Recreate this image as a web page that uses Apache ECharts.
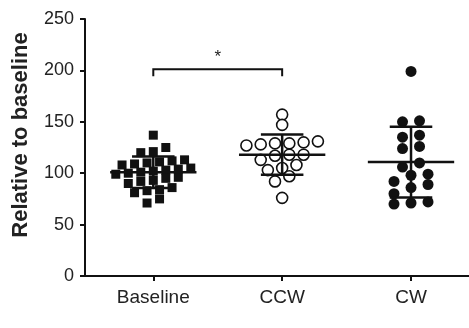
<!DOCTYPE html>
<html><head><meta charset="utf-8">
<script src="https://cdn.jsdelivr.net/npm/echarts@6/dist/echarts.min.js"></script>
<style>html,body{margin:0;padding:0;background:#fff}#c{width:469px;height:328px}</style>
</head><body><div id="c"></div>
<script>
const categories = ['Baseline', 'CCW', 'CW'];
const baseline = [137, 125, 121, 120, 113, 112, 111, 110, 109, 108, 105, 104, 103, 102, 101, 100, 99, 96, 95, 93, 92, 90, 86, 84, 83, 81, 75, 71];
const ccw = [157, 147, 131, 130, 129, 129, 128, 127, 118, 118, 117, 113, 108, 105, 103, 97, 92, 76];
const cw = [199, 150, 151, 137, 135, 126, 124, 110, 106, 98, 99, 92, 89, 86, 80, 72, 70, 71];
const yTicks = [0, 50, 100, 150, 200, 250];
const sigPairs = [[0, 1]];
const sigLabels = ['*'];
const sigHeights = [201];

const FONT = '"Liberation Sans", Arial, Helvetica, sans-serif';
const INK = '#111';
const chart = echarts.init(document.getElementById('c'), null, {renderer: 'canvas'});

chart.setOption({
  animation: false,
  grid: {left: 85, right: 0, top: 19, bottom: 52, containLabel: false},
  xAxis: {
    type: 'value', min: -0.53, max: 2.45, splitLine: {show: false},
    axisLine: {lineStyle: {color: INK, width: 2}},
    axisTick: {customValues: [0, 1, 2], length: 5, lineStyle: {color: INK, width: 2}},
    axisLabel: {customValues: [0, 1, 2], formatter: v => categories[Math.round(v)],
      fontSize: 19, color: '#222', fontFamily: FONT, margin: 12}
  },
  yAxis: {
    type: 'value', min: yTicks[0], max: yTicks[yTicks.length - 1], interval: yTicks[1] - yTicks[0],
    splitLine: {show: false},
    axisLine: {show: true, onZero: false, lineStyle: {color: INK, width: 2}},
    axisTick: {show: true, length: 5, lineStyle: {color: INK, width: 2}},
    axisLabel: {fontSize: 18, color: '#222', fontFamily: FONT, margin: 11}
  },
  graphic: [{
    type: 'text', x: 21, y: 135, rotation: Math.PI / 2,
    style: {text: 'Relative to baseline', font: 'bold 22px ' + FONT, fill: '#222',
      align: 'center', verticalAlign: 'middle'}
  }],
  series: []
});

const p0 = chart.convertToPixel({gridIndex: 0}, [0, 0]);
const p1 = chart.convertToPixel({gridIndex: 0}, [1, 100]);
const sx = p1[0] - p0[0];

// row-binned dot layout (GraphPad style): values grouped into rows, rows spread symmetrically
function rows(vals, H, S) {
  const order = vals.map((v, i) => i).sort((a, b) => vals[a] - vals[b]);
  const out = new Array(vals.length);
  let bin = [], start = null;
  const flush = () => {
    const n = bin.length;
    bin.forEach((idx, k) => { out[idx] = (k - (n - 1) / 2) * S / sx; });
    bin = [];
  };
  order.forEach(idx => {
    if (start === null || vals[idx] - start >= H) { flush(); start = vals[idx]; }
    bin.push(idx);
  });
  flush();
  return out;
}

function stats(vals) {
  const n = vals.length;
  const m = vals.reduce((a, b) => a + b, 0) / n;
  const sd = Math.sqrt(vals.reduce((a, b) => a + (b - m) * (b - m), 0) / (n - 1));
  return [m, sd];
}

const groups = [baseline, ccw, cw];
const rowH = [9, 10, 10];
const rowS = [12.5, 14.3, 17];
const pts = groups.map((g, gi) => {
  const off = rows(g, rowH[gi], rowS[gi]);
  return g.map((v, i) => [gi + off[i], v]);
});
const summary = groups.map((g, gi) => [gi].concat(stats(g)));

chart.setOption({
  series: [
    {type: 'scatter', data: pts[0], symbol: 'rect', symbolSize: 9, itemStyle: {color: INK, opacity: 1}, z: 2},
    {type: 'scatter', data: pts[1], symbol: 'circle', symbolSize: 11,
      itemStyle: {color: '#fff', borderColor: INK, borderWidth: 1.6, opacity: 1}, z: 2},
    {type: 'scatter', data: pts[2], symbol: 'circle', symbolSize: 11, itemStyle: {color: INK, opacity: 1}, z: 2},
    {
      type: 'custom', z: 5, data: summary, silent: true,
      renderItem: (params, api) => {
        const i = api.value(0), m = api.value(1), s = api.value(2);
        const st = {stroke: INK, lineWidth: 2.5};
        const L = (a, b) => ({type: 'line', shape: {x1: a[0], y1: a[1], x2: b[0], y2: b[1]}, style: st});
        return {type: 'group', children: [
          L(api.coord([i - 0.335, m]), api.coord([i + 0.335, m])),
          L(api.coord([i, m - s]), api.coord([i, m + s])),
          L(api.coord([i - 0.165, m + s]), api.coord([i + 0.165, m + s])),
          L(api.coord([i - 0.165, m - s]), api.coord([i + 0.165, m - s]))
        ]};
      }
    },
    {
      type: 'custom', z: 5, silent: true,
      data: sigPairs.map((p, k) => [p[0], p[1], sigHeights[k]]),
      renderItem: (params, api) => {
        const a = api.value(0), b = api.value(1), h = api.value(2);
        const pa = api.coord([a, h]), pb = api.coord([b, h]);
        return {type: 'group', children: [
          {type: 'polyline', shape: {points: [[pa[0], pa[1] + 7], pa, pb, [pb[0], pb[1] + 7]]},
            style: {stroke: INK, lineWidth: 2, fill: null}},
          {type: 'text', x: (pa[0] + pb[0]) / 2, y: pa[1] - 12,
            style: {text: sigLabels[params.dataIndex], font: '17px ' + FONT, fill: '#222',
              align: 'center', verticalAlign: 'middle'}}
        ]};
      }
    }
  ]
});
</script>
</body></html>
